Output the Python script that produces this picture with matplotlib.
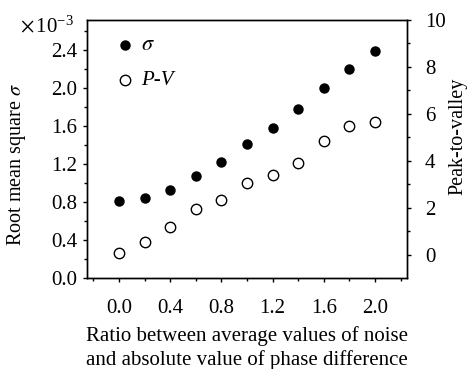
import numpy as np
import matplotlib
matplotlib.use("Agg")
import matplotlib.pyplot as plt
from matplotlib.ticker import MultipleLocator

plt.rcParams['font.family'] = ['Liberation Serif', 'DejaVu Serif']
plt.rcParams['mathtext.fontset'] = 'stix'

# data
ratio = [0.0, 0.2, 0.4, 0.6, 0.8, 1.0, 1.2, 1.4, 1.6, 1.8, 2.0]
sigma = [0.81, 0.84, 0.93, 1.07, 1.22, 1.41, 1.58, 1.78, 2.00, 2.20, 2.39]  # x1e-3
pv = [0.07, 0.54, 1.19, 1.94, 2.34, 3.08, 3.40, 3.93, 4.85, 5.50, 5.67]

x_ticks = [0.0, 0.4, 0.8, 1.2, 1.6, 2.0]
left_ticks = [0.0, 0.4, 0.8, 1.2, 1.6, 2.0, 2.4]
right_ticks = [0, 2, 4, 6, 8, 10]

fig = plt.figure(figsize=(4.75, 3.69), dpi=100)
ax = fig.add_axes([87 / 475, 1 - 278 / 369, 320 / 475, 258 / 369])
ax2 = ax.twinx()

ax.plot(ratio, sigma, 'o', color='black', ms=6.5, zorder=3)
ax2.plot(ratio, pv, 'o', mfc='white', mec='black', mew=1.0, ms=7.5, zorder=3)

ax.set_xlim(-0.25, 2.25)
ax.set_ylim(0, 2.716)
ax2.set_ylim(-0.98, 10.0)

ax.set_xticks(x_ticks)
ax.set_xticklabels([f"{v:.1f}" for v in x_ticks])
ax.xaxis.set_minor_locator(MultipleLocator(0.2))
ax.set_yticks(left_ticks)
ax.set_yticklabels([f"{v:.1f}" for v in left_ticks])
ax.yaxis.set_minor_locator(MultipleLocator(0.2))
ax2.set_yticks(right_ticks)
ax2.yaxis.set_minor_locator(MultipleLocator(1))

for a in (ax, ax2):
    a.tick_params(which='both', direction='out', labelsize=15, width=1.0)
    a.tick_params(which='major', length=3)
    a.tick_params(which='minor', length=2)
    for s in a.spines.values():
        s.set_linewidth(1.0)
ax.tick_params(axis='x', which='major', pad=12)
ax.tick_params(axis='y', pad=4)
ax2.tick_params(axis='y', pad=10)

ax.set_ylabel(r'Root mean square $\sigma$', fontsize=14.5, va='center')
ax.yaxis.set_label_coords(-0.22, 0.44)
ax2.set_ylabel('Peak-to-valley', fontsize=14.5, va='center')
ax2.yaxis.set_label_coords(1.16, 0.55)
ax.set_xlabel('Ratio between average values of noise\nand absolute value of phase difference',
              fontsize=15, labelpad=6, linespacing=1.3)

fig.text(20 / 475, 1 - 27 / 369, r'$\times\,\mathregular{10^{-3}}$', fontsize=15, va='center')

# legend drawn by hand to match the reference
ax.plot([0.047], [2.45], 'o', color='black', ms=6.5)
ax.text(0.17, 2.45, r'$\sigma$', fontsize=16, va='center')
ax.plot([0.047], [2.08], 'o', mfc='white', mec='black', mew=1.0, ms=7.5)
ax.text(0.17, 2.08, 'P-V', fontsize=15, va='center', style='italic')

fig.savefig('out.png', dpi=100)
